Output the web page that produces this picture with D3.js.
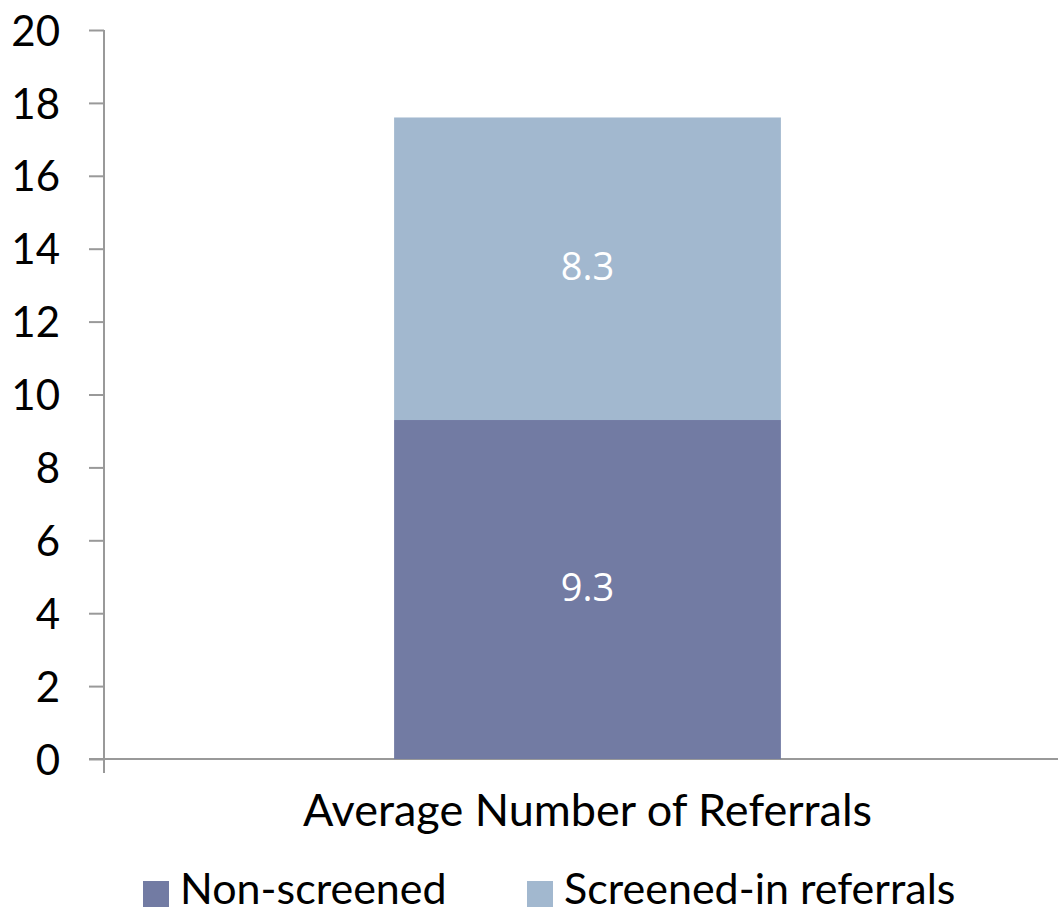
<!DOCTYPE html>
<head>
  <meta charset="utf-8">
  <script src="https://d3js.org/d3.v7.min.js"></script>
  <style>
    body { margin: 0; background: #fff; }
    text { font-family: Lato, sans-serif; fill: #000; }
  </style>
</head>
<body>
  <script>
  // data
  var categories = ["Average Number of Referrals"];
  var seriesNames = ["Non-screened", "Screened-in referrals"];
  var nonScreened = [9.3];
  var screenedIn = [8.3];
  var yTicks = [0, 2, 4, 6, 8, 10, 12, 14, 16, 18, 20];
  var colors = ["#727ba3", "#a2b8cf"];

  var width = 1058, height = 916;
  var margin = {top: 30, right: -13, bottom: 157, left: 104};

  var svg = d3.select("body").append("svg")
      .attr("width", width)
      .attr("height", height);

  var g = svg.append("g")
      .attr("transform", "translate(" + margin.left + "," + margin.top + ")");

  var w = width - margin.left - margin.right,
      h = height - margin.top - margin.bottom;

  var x = d3.scaleBand().domain(categories).range([0, w]).paddingInner(0).paddingOuter(0.75);
  var y = d3.scaleLinear().domain([0, 20]).range([h, 0]);

  var rows = categories.map(function(c, i) {
    return {cat: c, "Non-screened": nonScreened[i], "Screened-in referrals": screenedIn[i]};
  });
  var stack = d3.stack().keys(seriesNames)(rows);

  // y axis
  var yAxis = g.append("g")
      .call(d3.axisLeft(y).tickValues(yTicks).tickSize(15).tickPadding(29).tickSizeOuter(0));
  yAxis.select(".domain").attr("stroke", "#999").attr("stroke-width", 2)
      .attr("d", "M0,0V" + (h + 14));
  yAxis.selectAll(".tick line").attr("stroke", "#999").attr("stroke-width", 2);
  yAxis.selectAll(".tick text")
      .style("font-size", "42px")
      .style("font-family", "Lato, sans-serif")
      .attr("fill", "#000")
      .attr("dy", "0.36em");

  // x axis baseline
  g.append("line")
      .attr("x1", -15).attr("x2", w)
      .attr("y1", y(0)).attr("y2", y(0))
      .attr("stroke", "#999").attr("stroke-width", 2);

  // bars
  var layers = g.selectAll(".layer").data(stack).enter().append("g")
      .attr("fill", function(d, i) { return colors[i]; });

  layers.selectAll("rect").data(function(d) { return d; }).enter().append("rect")
      .attr("x", function(d) { return x(d.data.cat); })
      .attr("width", x.bandwidth())
      .attr("y", function(d) { return y(d[1]); })
      .attr("height", function(d) { return y(d[0]) - y(d[1]); });

  layers.selectAll("text").data(function(d) { return d; }).enter().append("text")
      .attr("x", function(d) { return x(d.data.cat) + x.bandwidth() / 2; })
      .attr("y", function(d) { return (y(d[0]) + y(d[1])) / 2; })
      .attr("dy", "0.3em")
      .attr("text-anchor", "middle")
      .style("font-family", "'Open Sans', sans-serif")
      .style("font-size", "38px")
      .style("fill", "#fff")
      .text(function(d) { return d3.format(".1f")(d[1] - d[0]); });

  // category label
  g.selectAll(".cat").data(categories).enter().append("text")
      .attr("x", function(d) { return x(d) + x.bandwidth() / 2; })
      .attr("y", 826 - margin.top)
      .attr("text-anchor", "middle")
      .style("font-size", "45px")
      .text(function(d) { return d; });

  // legend
  var legendX = [143, 527];
  var legend = svg.selectAll(".legend").data(seriesNames).enter().append("g")
      .attr("transform", function(d, i) { return "translate(" + legendX[i] + ",0)"; });
  legend.append("rect")
      .attr("y", 881).attr("width", 26).attr("height", 26)
      .attr("fill", function(d, i) { return colors[i]; });
  legend.append("text")
      .attr("x", 37).attr("y", 904)
      .style("font-size", "43px")
      .text(function(d) { return d; });
  </script>
</body>
